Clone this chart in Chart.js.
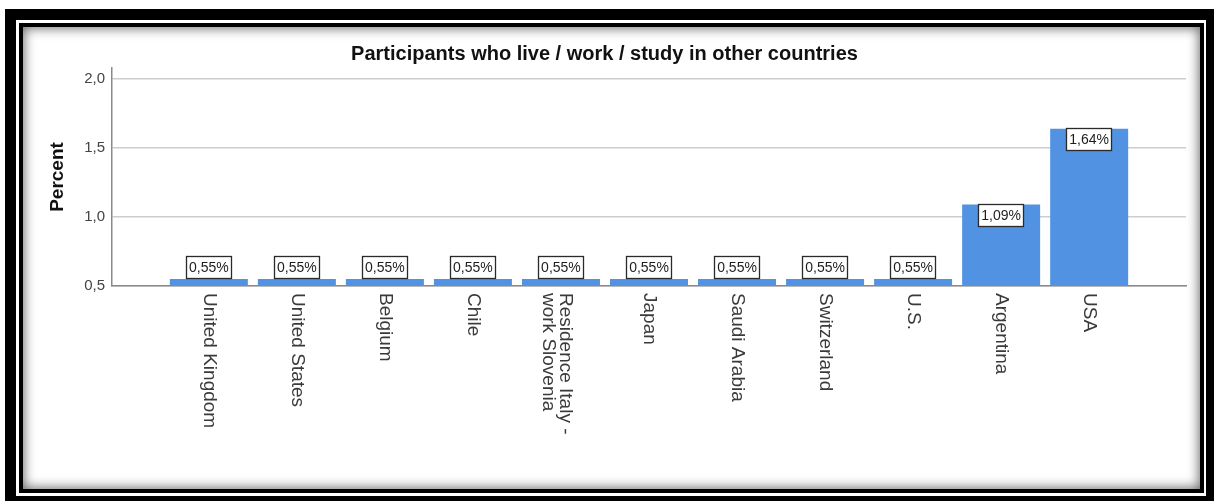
<!DOCTYPE html>
<html>
<head>
<meta charset="utf-8">
<script src="https://cdn.jsdelivr.net/npm/chart.js@4.4.1/dist/chart.umd.min.js"></script>
<style>
  html, body { margin: 0; padding: 0; background: #fff; }
  body { position: relative; width: 1214px; height: 501px; overflow: hidden; }
  .frame-outer { position: absolute; left: 5px; top: 9px; width: 1212px; height: 498px; box-sizing: border-box; border: 11px solid #000; background: #fff; }
  .frame-inner { position: absolute; left: 19px; top: 23px; width: 1185px; height: 470px; box-sizing: border-box; border: 4px solid #000; background: #fff; }
  .plot-wrap { position: absolute; left: 23px; top: 27px; width: 1177px; height: 462px; }
  .shade { position: absolute; left: 23px; top: 27px; width: 1177px; height: 462px; box-shadow: inset 0 0 12px 1px rgba(0,0,0,0.6); pointer-events: none; }
</style>
</head>
<body>
<div class="frame-outer"></div>
<div class="frame-inner"></div>
<div class="plot-wrap"><canvas id="chart" width="1177" height="462"></canvas></div>
<div class="shade"></div>
<script>
// Countries named by participants (multi-line entries are arrays of lines)
const categories = [
  'United Kingdom', 'United States', 'Belgium', 'Chile',
  ['Residence Italy -', 'work Slovenia'],
  'Japan', 'Saudi Arabia', 'Switzerland', 'U.S.', 'Argentina', 'USA'
];
// Share of participants, in percent
const percentValues = [0.55, 0.55, 0.55, 0.55, 0.55, 0.55, 0.55, 0.55, 0.55, 1.09, 1.64];
// Value axis tick marks
const yTickValues = [0.5, 1.0, 1.5, 2.0];

const FONT = '"Liberation Sans", Arial, Helvetica, sans-serif';
Chart.defaults.font.family = FONT;

const fmtComma = (v, d) => v.toFixed(d).replace('.', ',');

// Boxed value labels on each bar
const valueBoxes = {
  id: 'valueBoxes',
  afterDatasetsDraw(chart) {
    const ctx = chart.ctx;
    const meta = chart.getDatasetMeta(0);
    ctx.save();
    ctx.font = '14px ' + FONT;
    ctx.textAlign = 'center';
    ctx.textBaseline = 'middle';
    meta.data.forEach((bar, i) => {
      const text = fmtComma(percentValues[i], 2) + '%';
      const w = Math.round(ctx.measureText(text).width) + 6;
      const h = 23;
      const barH = bar.base - bar.y;
      const top = barH > h ? Math.round(bar.y) - 1 : Math.round(bar.y) - h;
      const left = Math.round(bar.x - w / 2);
      ctx.fillStyle = '#fff';
      ctx.fillRect(left, top, w, h);
      ctx.strokeStyle = '#2a2a2a';
      ctx.lineWidth = 1.3;
      ctx.strokeRect(left + 0.5, top + 0.5, w - 1, h - 1);
      ctx.fillStyle = '#1e1e1e';
      ctx.fillText(text, bar.x, top + h / 2 + 1);
    });
    ctx.restore();
  }
};

// Category names written downward under each bar
const downwardLabels = {
  id: 'downwardLabels',
  afterDraw(chart) {
    const ctx = chart.ctx;
    const xs = chart.scales.x;
    ctx.save();
    ctx.font = '19px ' + FONT;
    ctx.fillStyle = '#3a3a3a';
    ctx.textAlign = 'left';
    ctx.textBaseline = 'middle';
    categories.forEach((label, i) => {
      const lines = Array.isArray(label) ? label : [label];
      const px = xs.getPixelForValue(i);
      const n = lines.length;
      lines.forEach((line, j) => {
        const cx = px - 2 + 4 * (n - 1) - 16.5 * j;
        ctx.save();
        ctx.translate(cx + 2, xs.top + 7);
        ctx.rotate(Math.PI / 2);
        ctx.fillText(line, 0, 0);
        ctx.restore();
      });
    });
    ctx.restore();
  }
};

new Chart(document.getElementById('chart'), {
  type: 'bar',
  data: {
    datasets: [{
      data: percentValues.map((v, i) => ({ x: i, y: v })),
      backgroundColor: '#5192e2',
      borderWidth: 0,
      base: 0.5,
      categoryPercentage: 1,
      barPercentage: 0.886
    }]
  },
  options: {
    responsive: false,
    animation: false,
    events: [],
    layout: { padding: { left: 0, right: 14, top: 0, bottom: 0 } },
    plugins: {
      legend: { display: false },
      tooltip: { enabled: false },
      title: {
        display: true,
        text: 'Participants who live / work / study in other countries',
        color: '#111',
        font: { size: 20, weight: 'bold', family: FONT },
        padding: { top: 15, bottom: 2 }
      }
    },
    scales: {
      x: {
        type: 'linear',
        offset: false,
        min: -1.1,
        max: 11.1,
        grid: { display: false, offset: false },
        border: { display: true, color: '#8a8a8a', width: 1.5 },
        ticks: { display: false },
        afterBuildTicks: s => { s.ticks = categories.map((_, i) => ({ value: i })); },
        afterFit: s => { s.height = 203; }
      },
      y: {
        min: 0.5,
        max: 2.08,
        afterBuildTicks: s => { s.ticks = yTickValues.map(v => ({ value: v })); },
        ticks: {
          callback: v => fmtComma(v, 1),
          color: '#444',
          font: { size: 15, family: FONT },
          padding: 7
        },
        grid: { color: '#cdcdcd', lineWidth: 1.5, drawTicks: false },
        border: { display: true, color: '#8a8a8a', width: 1.5 },
        title: {
          display: true,
          text: 'Percent',
          color: '#111',
          font: { size: 19, weight: 'bold', family: FONT },
          padding: { top: 23, bottom: 0 }
        },
        afterFit: s => { s.width = 89; }
      }
    }
  },
  plugins: [valueBoxes, downwardLabels]
});
</script>
</body>
</html>
